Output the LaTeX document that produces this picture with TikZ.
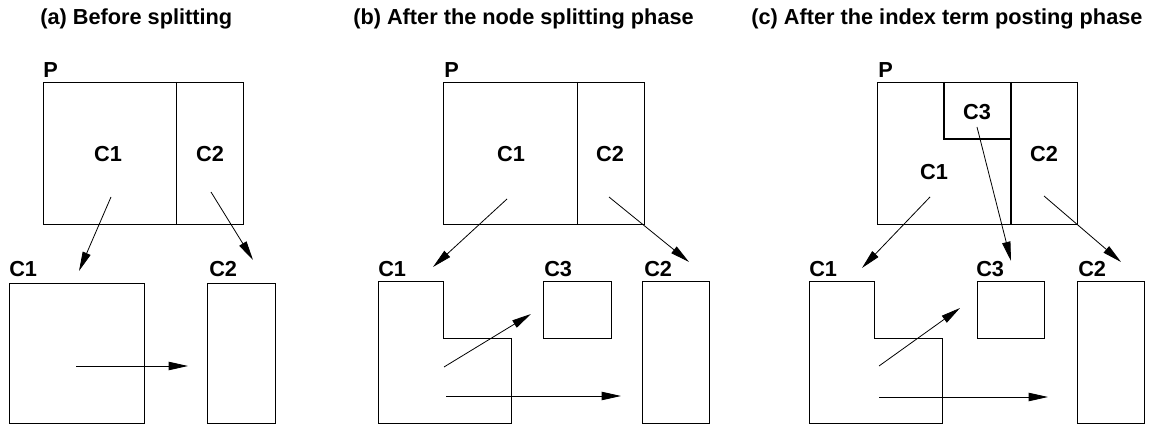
\documentclass[tikz,border=0pt]{standalone}
\usepackage{fontspec}
\setmainfont{Liberation Sans}
\usetikzlibrary{arrows.meta}
\begin{document}
\begin{tikzpicture}[x=0.75pt,y=-0.75pt,
  lbl/.style={font=\bfseries\fontsize{16.3}{19}\selectfont, inner sep=0pt},
  ttl/.style={lbl, anchor=base west},
  tag/.style={lbl, anchor=base west},
  box/.style={draw=black, line width=0.7pt},
  heavybox/.style={draw=black, line width=1.2pt},
  arr/.style={line width=0.6pt, -{Triangle[length=14.5pt,width=6.3pt]}}]
\useasboundingbox (0,0) rectangle (1149,427);

% titles
\node[ttl] (ta) at (40,25) {(a) Before splitting};
\node[ttl] (tb) at (353,25) {(b) After the node splitting phase};
\node[ttl] (tc) at (751,25) {(c) After the index term posting phase};

% ---------- panel (a) ----------
\draw[box] (43,82) rectangle (243,224);
\draw[box] (176,82) -- (176,224);
\node[tag] (aP) at (43,78) {P};
\node[lbl] (aC1) at (108,154) {C1};
\node[lbl] (aC2) at (210,154) {C2};
\node[tag] (aC1l) at (9,277) {C1};
\node[tag] (aC2l) at (209,277) {C2};
\draw[box] (9,283) rectangle (144,423);
\draw[box] (207,283) rectangle (275,423);
\coordinate (a1s) at (111,197); \coordinate (a1e) at (79,271);
\coordinate (a2s) at (211,192); \coordinate (a2e) at (253,260);
\coordinate (a3s) at (76,366);  \coordinate (a3e) at (188,366);
\draw[arr] (a1s) -- (a1e);
\draw[arr] (a2s) -- (a2e);
\draw[arr] (a3s) -- (a3e);

% ---------- panel (b) ----------
\draw[box] (443,82) rectangle (644,224);
\draw[box] (577,82) -- (577,224);
\node[tag] (bP) at (444,78) {P};
\node[lbl] (bC1) at (511,154) {C1};
\node[lbl] (bC2) at (610,154) {C2};
\node[tag] (bC1l) at (378,277) {C1};
\node[tag] (bC3l) at (544,277) {C3};
\node[tag] (bC2l) at (644,277) {C2};
\draw[box] (378,281) -- (443,281) -- (443,338) -- (511,338) -- (511,423) -- (378,423) -- cycle;
\draw[box] (543,281) rectangle (611,338);
\draw[box] (642,281) rectangle (709,423);
\coordinate (b1s) at (507,199); \coordinate (b1e) at (433,267);
\coordinate (b2s) at (609,197); \coordinate (b2e) at (689,262);
\coordinate (b3s) at (444,367); \coordinate (b3e) at (531,314);
\coordinate (b4s) at (446,396); \coordinate (b4e) at (621,396);
\draw[arr] (b1s) -- (b1e);
\draw[arr] (b2s) -- (b2e);
\draw[arr] (b3s) -- (b3e);
\draw[arr] (b4s) -- (b4e);

% ---------- panel (c) ----------
\draw[box] (877,82) rectangle (1077,224);
\draw[heavybox] (1011,82) -- (1011,224);
\draw[heavybox] (944,82) -- (944,139) -- (1011,139);
\node[tag] (cP) at (878,78) {P};
\node[lbl] (cC3) at (977,112) {C3};
\node[lbl] (cC2) at (1044,154) {C2};
\node[lbl] (cC1) at (934,172) {C1};
\node[tag] (cC1l) at (809,277) {C1};
\node[tag] (cC3l) at (976,277) {C3};
\node[tag] (cC2l) at (1078,277) {C2};
\draw[box] (809,281) -- (874,281) -- (874,338) -- (942,338) -- (942,423) -- (809,423) -- cycle;
\draw[box] (977,281) rectangle (1044,338);
\draw[box] (1077,281) rectangle (1144,423);
\coordinate (c1s) at (930,197);  \coordinate (c1e) at (862,268);
\coordinate (c2s) at (977,127);  \coordinate (c2e) at (1011,261);
\coordinate (c3s) at (1044,196); \coordinate (c3e) at (1121,262);
\coordinate (c4s) at (879,366);  \coordinate (c4e) at (960,308);
\coordinate (c5s) at (879,397);  \coordinate (c5e) at (1048,397);
\draw[arr] (c1s) -- (c1e);
\draw[arr] (c2s) -- (c2e);
\draw[arr] (c3s) -- (c3e);
\draw[arr] (c4s) -- (c4e);
\draw[arr] (c5s) -- (c5e);
\end{tikzpicture}
\end{document}
